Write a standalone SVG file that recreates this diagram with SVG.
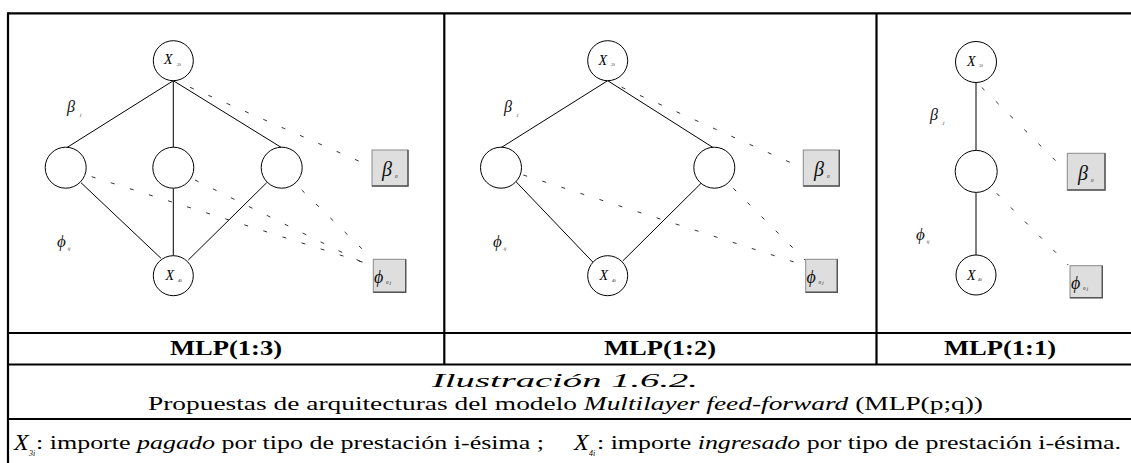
<svg xmlns="http://www.w3.org/2000/svg" width="1131" height="463" viewBox="0 0 1131 463">
  <style>
    .grid { stroke: #000; stroke-width: 2.2; fill: none; }
    .node { fill: #fff; stroke: #000; stroke-width: 1; }
    .bias { fill: #dedede; stroke: #8a8a8a; stroke-width: 1; }
    .bias-shade { stroke: #555; stroke-width: 1.4; fill: none; }
    .edge { stroke: #000; stroke-width: 1; fill: none; }
    .bias-edge { stroke: #333; stroke-width: 1; fill: none; stroke-dasharray: 4 16; }
    .serif { font-family: "Liberation Serif", "Times New Roman", serif; fill: #000; }
    .greek { font-family: "Liberation Serif", "DejaVu Serif", serif; font-style: italic; fill: #111; }
    .var { font-family: "Liberation Serif", serif; font-style: italic; font-size: 14px; fill: #000; }
    .sub { font-family: "Liberation Serif", serif; font-style: italic; font-size: 5px; fill: #222; }
    .head { font-family: "Liberation Serif", serif; font-weight: bold; font-size: 20px; text-anchor: middle; }
    .body { font-family: "Liberation Serif", serif; font-size: 18px; fill: #000; }
    .it { font-style: italic; }
  </style>

  <rect width="1131" height="463" fill="#fff"/>

  <!-- table frame -->
  <g id="table">
    <line class="grid" x1="8" y1="13.3" x2="1131" y2="13.3"/>
    <line class="grid" x1="8" y1="12.2" x2="8" y2="463"/>
    <line class="grid" x1="444.3" y1="13.3" x2="444.3" y2="364.5"/>
    <line class="grid" x1="876.5" y1="13.3" x2="876.5" y2="364.5"/>
    <line class="grid" x1="8" y1="333" x2="1131" y2="333"/>
    <line class="grid" x1="8" y1="364.5" x2="1131" y2="364.5"/>
    <line class="grid" x1="8" y1="419" x2="1131" y2="419"/>
  </g>

  <!-- connectors -->
  <g id="connectors">
    <!-- MLP(1:3) -->
    <line class="edge" x1="173.3" y1="80.7" x2="66.7" y2="147.7"/>
    <line class="edge" x1="173.3" y1="80.7" x2="173.3" y2="147.7"/>
    <line class="edge" x1="173.3" y1="80.7" x2="281.7" y2="147.7"/>
    <line class="edge" x1="81" y1="182.7" x2="161" y2="258.3"/>
    <line class="edge" x1="173.3" y1="188.3" x2="173.3" y2="255.7"/>
    <line class="edge" x1="266.7" y1="182.7" x2="188.3" y2="260"/>
    <line class="bias-edge" x1="190" y1="87.3" x2="371.7" y2="166.7"/>
    <line class="bias-edge" x1="91.7" y1="176.7" x2="371.7" y2="265"/>
    <line class="bias-edge" x1="195" y1="180" x2="371.7" y2="267"/>
    <line class="bias-edge" x1="301.7" y1="190" x2="371.7" y2="258.3"/>
    <!-- MLP(1:2) -->
    <line class="edge" x1="607.7" y1="80.7" x2="501" y2="147.7"/>
    <line class="edge" x1="607.7" y1="80.7" x2="713.3" y2="147.7"/>
    <line class="edge" x1="516" y1="181.7" x2="594" y2="263.3"/>
    <line class="edge" x1="701.7" y1="182.7" x2="622.7" y2="261"/>
    <line class="bias-edge" x1="621.7" y1="87.3" x2="803.3" y2="168.3"/>
    <line class="bias-edge" x1="523.3" y1="175" x2="803.3" y2="265"/>
    <line class="bias-edge" x1="733.3" y1="188.3" x2="805" y2="260"/>
    <!-- MLP(1:1) -->
    <line class="edge" x1="976" y1="82.7" x2="976" y2="150.5"/>
    <line class="edge" x1="976" y1="192.5" x2="976" y2="255"/>
    <line class="bias-edge" x1="981.7" y1="87.3" x2="1066.7" y2="171.7"/>
    <line class="bias-edge" x1="996.7" y1="193.3" x2="1068.3" y2="265"/>
  </g>

  <!-- MLP(1:3) nodes -->
  <g id="p1-x3">
    <circle class="node" cx="173.3" cy="60.7" r="20"/>
    <text class="var" x="164" y="64">X</text><text class="sub" x="177" y="65.5">3i</text>
  </g>
  <g id="p1-h1"><circle class="node" cx="65.7" cy="167.7" r="20.5"/></g>
  <g id="p1-h2"><circle class="node" cx="173.3" cy="167.7" r="20.5"/></g>
  <g id="p1-h3"><circle class="node" cx="281.7" cy="167.7" r="20.5"/></g>
  <g id="p1-x4">
    <circle class="node" cx="173.3" cy="275.7" r="20"/>
    <text class="var" x="165.5" y="280">X</text><text class="sub" x="178" y="281.5">4i</text>
  </g>
  <g id="p1-b0">
    <rect class="bias" x="372" y="150" width="36" height="36"/>
    <polyline class="bias-shade" points="408,150 408,186 372,186"/>
    <text class="greek" x="382" y="176" font-size="20">β</text><text class="sub" x="395" y="178">0</text>
  </g>
  <g id="p1-f0">
    <rect class="bias" x="373.3" y="259.3" width="32.4" height="33"/>
    <polyline class="bias-shade" points="405.7,259.3 405.7,292.3 373.3,292.3"/>
    <text class="greek" x="374" y="283" font-size="18">ϕ</text><text class="sub" x="386" y="284">0 j</text>
  </g>
  <g id="p1-labels">
    <text class="greek" x="67" y="112" font-size="16">β</text><text class="sub" x="80" y="116">j</text>
    <text class="greek" x="57" y="247" font-size="17" fill="#333">ϕ</text><text class="sub" x="67.5" y="249.5" fill="#555">ij</text>
  </g>

  <!-- MLP(1:2) nodes -->
  <g id="p2-x3">
    <circle class="node" cx="607.7" cy="60.7" r="20"/>
    <text class="var" x="598.5" y="64.5">X</text><text class="sub" x="611" y="65.5">3i</text>
  </g>
  <g id="p2-h1"><circle class="node" cx="501" cy="167.7" r="20.5"/></g>
  <g id="p2-h2"><circle class="node" cx="714.3" cy="167.7" r="20.5"/></g>
  <g id="p2-x4">
    <circle class="node" cx="607.7" cy="275.7" r="20"/>
    <text class="var" x="599.5" y="280">X</text><text class="sub" x="612" y="281.5">4i</text>
  </g>
  <g id="p2-b0">
    <rect class="bias" x="803.3" y="150" width="36" height="36"/>
    <polyline class="bias-shade" points="839.3,150 839.3,186 803.3,186"/>
    <text class="greek" x="814" y="176" font-size="20">β</text><text class="sub" x="827" y="178">0</text>
  </g>
  <g id="p2-f0">
    <rect class="bias" x="805.7" y="259.3" width="31.6" height="33"/>
    <polyline class="bias-shade" points="837.3,259.3 837.3,292.3 805.7,292.3"/>
    <text class="greek" x="806.5" y="283" font-size="18">ϕ</text><text class="sub" x="818.5" y="284">0 j</text>
  </g>
  <g id="p2-labels">
    <text class="greek" x="504" y="112" font-size="16">β</text><text class="sub" x="517" y="116">j</text>
    <text class="greek" x="493" y="247" font-size="17" fill="#333">ϕ</text><text class="sub" x="503.5" y="249.5" fill="#555">ij</text>
  </g>

  <!-- MLP(1:1) nodes -->
  <g id="p3-x3">
    <circle class="node" cx="976" cy="62" r="20.5"/>
    <text class="var" x="967" y="66">X</text><text class="sub" x="979" y="67">3i</text>
  </g>
  <g id="p3-h1"><circle class="node" cx="976.2" cy="171.4" r="21"/></g>
  <g id="p3-x4">
    <circle class="node" cx="976" cy="275" r="20"/>
    <text class="var" x="967" y="280">X</text><text class="sub" x="978" y="281">4i</text>
  </g>
  <g id="p3-b0">
    <rect class="bias" x="1067.3" y="153.3" width="37.7" height="36.7"/>
    <polyline class="bias-shade" points="1105,153.3 1105,190 1067.3,190"/>
    <text class="greek" x="1078" y="180" font-size="20">β</text><text class="sub" x="1091" y="182">0</text>
  </g>
  <g id="p3-f0">
    <rect class="bias" x="1070" y="265.7" width="32.3" height="32"/>
    <polyline class="bias-shade" points="1102.3,265.7 1102.3,297.7 1070,297.7"/>
    <text class="greek" x="1071" y="289" font-size="18">ϕ</text><text class="sub" x="1083" y="290">0 j</text>
  </g>
  <g id="p3-labels">
    <text class="greek" x="930" y="120" font-size="16">β</text><text class="sub" x="943" y="124">j</text>
    <text class="greek" x="916" y="240" font-size="17" fill="#333">ϕ</text><text class="sub" x="926.5" y="242.5" fill="#555">ij</text>
  </g>

  <!-- table headings and caption -->
  <g id="headings">
    <text class="serif head" x="226" y="355" textLength="112" lengthAdjust="spacingAndGlyphs">MLP(1:3)</text>
    <text class="serif head" x="660" y="355" textLength="112" lengthAdjust="spacingAndGlyphs">MLP(1:2)</text>
    <text class="serif head" x="1000" y="355" textLength="112" lengthAdjust="spacingAndGlyphs">MLP(1:1)</text>
  </g>
  <g id="caption">
    <text class="body it" x="565" y="387" font-size="20" text-anchor="middle" textLength="266" lengthAdjust="spacingAndGlyphs">Ilustración 1.6.2.</text>
    <text class="body" x="148" y="410" font-size="19" textLength="835" lengthAdjust="spacingAndGlyphs">Propuestas de  arquitecturas del modelo <tspan class="it">Multilayer feed-forward</tspan>  (MLP(p;q))</text>
  </g>
  <g id="legend">
    <text class="serif it" x="14" y="450" font-size="24">X</text>
    <text class="serif it" x="29" y="456" font-size="8">3i</text>
    <text class="body" x="36" y="449" font-size="19" textLength="508" lengthAdjust="spacingAndGlyphs">: importe <tspan class="it">pagado</tspan> por tipo de prestación i-ésima ;</text>
    <text class="serif it" x="574" y="450" font-size="24">X</text>
    <text class="serif it" x="589" y="456" font-size="8">4i</text>
    <text class="body" x="597" y="449" font-size="19" textLength="524" lengthAdjust="spacingAndGlyphs">: importe <tspan class="it">ingresado</tspan> por tipo de prestación i-ésima.</text>
  </g>
</svg>
